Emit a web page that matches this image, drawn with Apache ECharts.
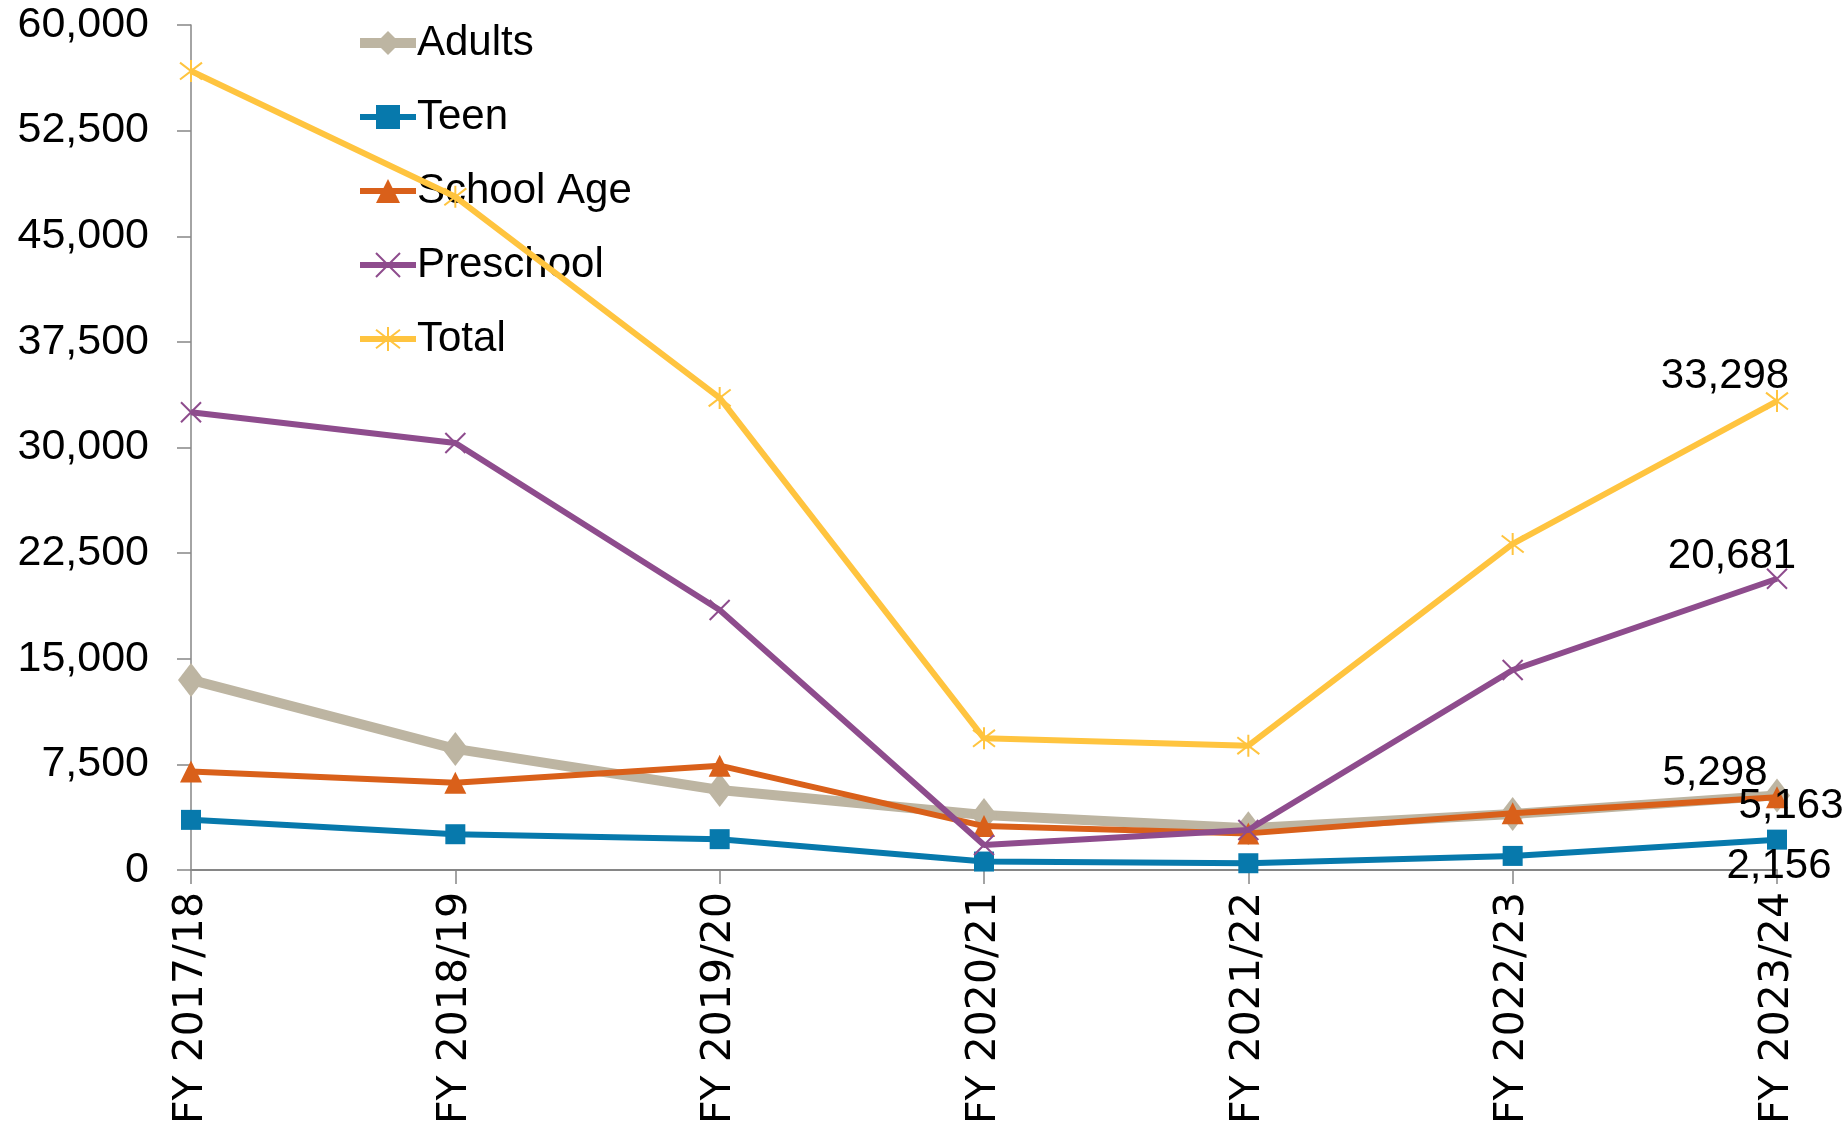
<!DOCTYPE html>
<html>
<head>
<meta charset="utf-8">
<script src="https://cdn.jsdelivr.net/npm/echarts@6/dist/echarts.min.js"></script>
<style>
  html, body { margin: 0; padding: 0; background: #ffffff; }
  #chart { width: 1847px; height: 1121px; }
</style>
</head>
<body>
<div id="chart"></div>
<script>
const categories = ['FY 2017/18', 'FY 2018/19', 'FY 2019/20', 'FY 2020/21', 'FY 2021/22', 'FY 2022/23', 'FY 2023/24'];
const adults     = [13500, 8600, 5680, 3900, 2960, 3980, 5298];
const teen       = [3560, 2540, 2190, 600, 480, 1000, 2156];
const schoolAge  = [6990, 6200, 7410, 3120, 2600, 4030, 5163];
const preschool  = [32500, 30320, 18460, 1780, 2840, 14200, 20681];
const total      = [56730, 47800, 33520, 9350, 8830, 23150, 33298];
const yTicks     = { min: 0, max: 60000, interval: 7500 };

const FONT = '"Liberation Sans", Arial, sans-serif';
const fmt = v => Number(v).toLocaleString('en-US');

function withLastLabel(values, offset) {
  return values.map((v, i) => i === values.length - 1
    ? { value: v, label: { show: true, position: 'inside', offset: offset,
        formatter: p => fmt(p.value), color: '#000', fontSize: 42, fontFamily: FONT } }
    : v);
}

const xPath = 'path://M0,0L10,10M10,0L0,10';
const starPath = 'path://M0,0L10,10M10,0L0,10M5,-1.5L5,11.5';

const chart = echarts.init(document.getElementById('chart'), null, { renderer: 'canvas' });
chart.setOption({
  animation: false,
  backgroundColor: '#ffffff',
  grid: { left: 191, right: 70, top: 25, bottom: 251, containLabel: false, outerBoundsMode: 'none' },
  legend: {
    orient: 'vertical', left: 350, top: 14,
    itemWidth: 56, itemHeight: 30, itemGap: 26,
    lineStyle: { width: 'inherit' },
    textStyle: { fontSize: 42, fontFamily: FONT, color: '#000', lineHeight: 48, padding: [0, 0, 0, -4] },
    data: ['Adults', 'Teen', 'School Age', 'Preschool', 'Total']
  },
  xAxis: {
    type: 'category', data: categories, boundaryGap: false,
    axisLine: { lineStyle: { color: '#868686', width: 2 } },
    axisTick: { show: true, alignWithLabel: true, length: 14, lineStyle: { color: '#868686', width: 1.5 } },
    axisLabel: { rotate: 90, margin: 22, fontSize: 41, color: '#000', fontFamily: '"DejaVu Sans", sans-serif', interval: 0 },
    splitLine: { show: false }
  },
  yAxis: {
    type: 'value', min: yTicks.min, max: yTicks.max, interval: yTicks.interval,
    axisLine: { show: true, lineStyle: { color: '#868686', width: 1.5 } },
    axisTick: { show: true, length: 14, lineStyle: { color: '#868686', width: 1.5 } },
    axisLabel: { margin: 42, fontSize: 43, color: '#000', fontFamily: FONT, formatter: v => fmt(v) },
    splitLine: { show: false }
  },
  series: [
    {
      name: 'Adults', type: 'line', data: withLastLabel(adults, [-62, -22]),
      symbol: 'diamond', symbolSize: [26, 34], showAllSymbol: true,
      lineStyle: { color: '#BDB5A2', width: 10 },
      itemStyle: { color: '#BDB5A2' }, z: 2
    },
    {
      name: 'Teen', type: 'line', data: withLastLabel(teen, [2, 27]),
      symbol: 'rect', symbolSize: 20, showAllSymbol: true,
      lineStyle: { color: '#0779AC', width: 6 },
      itemStyle: { color: '#0779AC' }, z: 3
    },
    {
      name: 'School Age', type: 'line', data: withLastLabel(schoolAge, [14, 9]),
      symbol: 'triangle', symbolSize: [22, 22], showAllSymbol: true,
      lineStyle: { color: '#D9601A', width: 6 },
      itemStyle: { color: '#D9601A' }, z: 4
    },
    {
      name: 'Preschool', type: 'line', data: withLastLabel(preschool, [-45, -22]),
      symbol: xPath, symbolSize: 20, showAllSymbol: true,
      lineStyle: { color: '#8E4C8D', width: 6 },
      itemStyle: { color: '#8E4C8D', borderColor: '#8E4C8D', borderWidth: 2 }, z: 5
    },
    {
      name: 'Total', type: 'line', data: withLastLabel(total, [-52, -25]),
      symbol: starPath, symbolSize: 22, showAllSymbol: true,
      lineStyle: { color: '#FFC43F', width: 6 },
      itemStyle: { color: '#FFC43F', borderColor: '#FFC43F', borderWidth: 2 }, z: 6
    }
  ]
});
</script>
</body>
</html>
